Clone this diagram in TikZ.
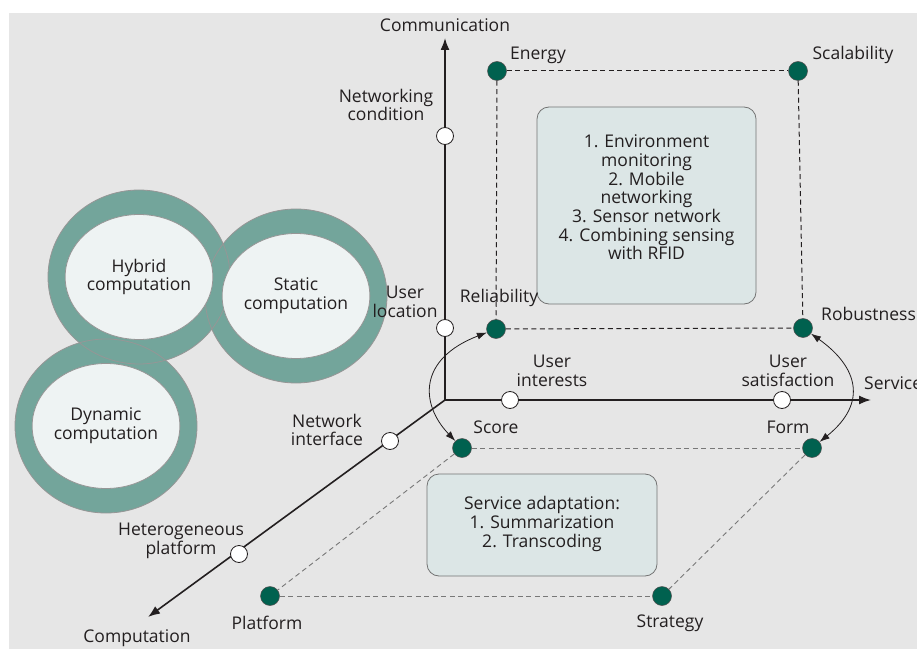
\documentclass[tikz,border=0pt]{standalone}
\usepackage{fontspec}
\setmainfont{Open Sans}
\usetikzlibrary{arrows.meta,shapes.geometric}
\definecolor{panelgray}{RGB}{230,230,230}
\definecolor{ringteal}{RGB}{115,165,155}
\definecolor{ringline}{RGB}{150,150,150}
\definecolor{corefill}{RGB}{238,243,243}
\definecolor{boxfill}{RGB}{220,230,230}
\definecolor{boxline}{RGB}{115,115,115}
\definecolor{dotgreen}{RGB}{0,97,79}
\definecolor{inkdark}{RGB}{35,31,32}
\definecolor{planegray}{RGB}{120,120,120}

\begin{document}
\begin{tikzpicture}[x=1pt,y=1pt,
  font=\fontsize{17.5}{18.7}\selectfont,
  tag/.style={align=center,inner sep=0pt,text=inkdark},
  axis/.style={draw=inkdark,line width=1.6pt,-{Latex[length=12pt,width=9pt]}},
  opendot/.style={circle,draw=inkdark,fill=white,line width=0.8pt,minimum size=17pt,inner sep=0pt},
  greendot/.style={circle,draw=inkdark!80,fill=dotgreen,line width=0.5pt,minimum size=19pt,inner sep=0pt},
  upperdash/.style={draw=inkdark,line width=1pt,dash pattern=on 5pt off 3.5pt},
  lowerdash/.style={draw=planegray,line width=0.9pt,dash pattern=on 5pt off 3.5pt},
  swing/.style={draw=inkdark,line width=0.8pt,{Latex[length=10pt,width=7pt]}-{Latex[length=10pt,width=7pt]}},
  infobox/.style={draw=boxline,fill=boxfill,rounded corners=12pt,line width=0.8pt,inner sep=0pt},
  ring/.style={ellipse,fill=ringteal,minimum width=182pt,minimum height=174pt,inner sep=0pt},
  core/.style={ellipse,draw=ringline,fill=corefill,line width=0.8pt,minimum width=134pt,minimum height=125pt,inner sep=0pt,align=center,text=inkdark}]

\useasboundingbox (0,0) rectangle (917,649);
\fill[panelgray] (9,0) rectangle (917,636);

% computation rings
\node[ring] (hybridring) at (139,372) {};
\node[ring] (staticring) at (296,353) {};
\node[ring] (dynamicring) at (106,223) {};
\foreach \r in {hybridring,staticring,dynamicring}
  \draw[ringline,line width=0.8pt] (\r.center) ellipse (91 and 87);
\node[core] (hybrid) at (139,372) {Hybrid\\computation};
\node[core] (static) at (296,353) {Static\\computation};
\node[core] (dynamic) at (106,223) {Dynamic\\computation};

% axes
\coordinate (origin) at (445,249);
\coordinate (commtip) at (445,611);
\coordinate (servtip) at (871,249);
\coordinate (comptip) at (148,32);
\draw[axis] (origin) -- (commtip);
\draw[axis] (origin) -- (servtip);
\draw[axis] (origin) -- (comptip);
\node[tag] (comm) at (445,624) {Communication};
\node[tag,anchor=west] (service) at (864,266) {Service};
\node[tag] (comp) at (137,11) {Computation};

% points on the axes
\node[opendot] (netcond) at (445,513) {};
\node[opendot] (userloc) at (445,321) {};
\node[opendot] (userint) at (510,249) {};
\node[opendot] (usersat) at (782,249) {};
\node[opendot] (netif) at (390,208) {};
\node[opendot] (hetero) at (239,95) {};
\node[tag] (netcondtxt) at (386,544) {Networking\\condition};
\node[tag] (userloctxt) at (405,347) {User\\location};
\node[tag] (userinttxt) at (552,278) {User\\interests};
\node[tag] (usersattxt) at (788,278) {User\\satisfaction};
\node[tag] (netiftxt) at (327,219) {Network\\interface};
\node[tag] (heterotxt) at (181,108) {Heterogeneous\\platform};

% upper plane
\node[infobox,minimum width=219pt,minimum height=197pt] (appbox) at (646.5,443.5) {};
\node[tag] (apptxt) at (646.5,451.5) {1. Environment\\monitoring\\2. Mobile\\networking\\3. Sensor network\\4. Combining sensing\\with RFID};
\node[greendot] (energy) at (497,578) {};
\node[greendot] (scal) at (798,578) {};
\node[greendot] (reliab) at (496,320) {};
\node[greendot] (robust) at (803,321) {};
\draw[upperdash] (energy) -- (scal);
\draw[upperdash] (energy) -- (reliab);
\draw[upperdash] (scal) -- (robust);
\draw[upperdash] (reliab) -- (robust);
\node[tag] (energytxt) at (538,594) {Energy};
\node[tag] (scaltxt) at (853,594) {Scalability};
\node[tag] (reliabtxt) at (499,351) {Reliability};
\node[tag,anchor=west] (robusttxt) at (821,335) {Robustness};

% lower plane
\node[infobox,minimum width=230pt,minimum height=102pt] (adaptbox) at (542,124) {};
\node[tag] (adapttxt) at (542,125) {Service adaptation:\\1. Summarization\\2. Transcoding};
\node[greendot] (score) at (462,201) {};
\node[greendot] (form) at (812,201) {};
\node[greendot] (platform) at (270,53) {};
\node[greendot] (strategy) at (662,53) {};
\draw[lowerdash] (score) -- (form);
\draw[lowerdash] (score) -- (platform);
\draw[lowerdash] (form) -- (strategy);
\draw[lowerdash] (platform) -- (strategy);
\node[tag] (scoretxt) at (496,222) {Score};
\node[tag] (formtxt) at (788,222) {Form};
\node[tag] (platformtxt) at (267,26) {Platform};
\node[tag] (strategytxt) at (670,26) {Strategy};

% links between the planes
\draw[swing] (reliab) .. controls (418,290) and (420,245) .. (score);
\draw[swing] (robust) .. controls (858,282) and (868,246) .. (form);
\end{tikzpicture}
\end{document}
